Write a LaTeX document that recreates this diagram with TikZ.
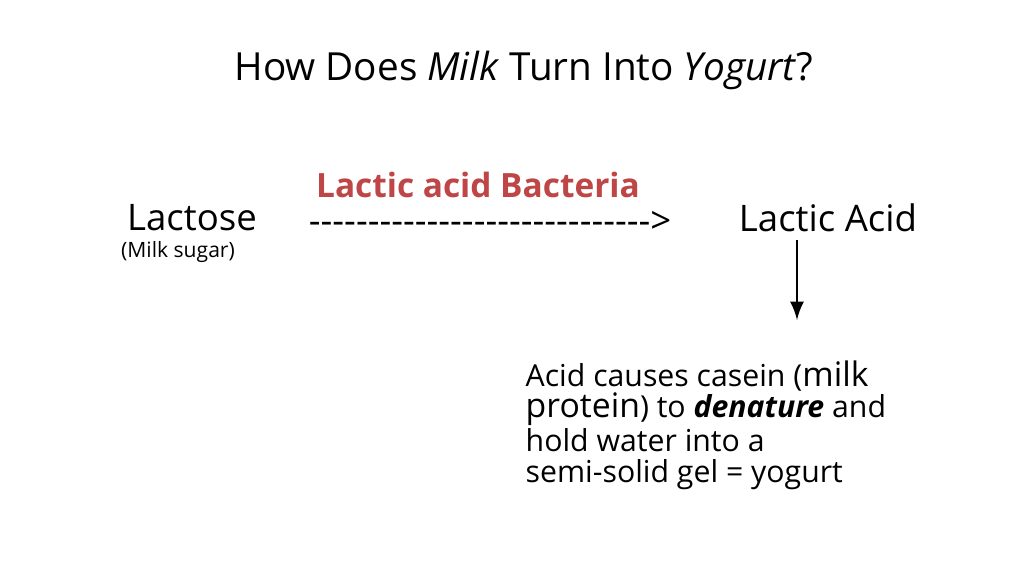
\documentclass[tikz,border=0pt]{standalone}
\usepackage{fontspec}
\setmainfont{Open Sans}
\begin{document}
\begin{tikzpicture}[x=0.01cm,y=-0.01cm,
  txt/.style={inner sep=0pt,font=\fontsize{10.4pt}{12pt}\selectfont},
  para/.style={inner sep=0pt,align=left,anchor=north west,font=\fontsize{8.6pt}{8.8pt}\selectfont}]
\useasboundingbox[fill=white] (0,0) rectangle (1024,576);
\node[inner sep=0pt,font=\fontsize{11pt}{12pt}\selectfont] (title) at (524,70) {How Does \textit{Milk} Turn Into \textit{Yogurt}?};
\node[txt] (lac) at (192,218) {Lactose};
\node[inner sep=0pt,font=\fontsize{6pt}{7pt}\selectfont] (ms) at (178,252) {(Milk sugar)};
\node[inner sep=0pt,font=\bfseries\fontsize{9.5pt}{11pt}\selectfont,text={rgb,255:red,190;green,70;blue,70}] (bac) at (478,185) {Lactic acid Bacteria};
\node[txt] (dash) at (490,222) {-{}-{}-{}-{}-{}-{}-{}-{}-{}-{}-{}-{}-{}-{}-{}-{}-{}-{}-{}-{}-{}-{}-{}-{}-{}-{}-{}-{}->};
\node[txt] (la) at (828,218) {Lactic Acid};
\node[para] (p) at (525,360) {Acid causes casein ({\fontsize{9.6pt}{9pt}\selectfont milk}\\{\fontsize{9.6pt}{9pt}\selectfont protein}) to \textbf{\textit{denature}} and\\hold water into a\\semi-solid gel = yogurt};
\coordinate (a1) at (797,240);
\coordinate (a2) at (797,320);
\draw[thick,-latex] (a1) -- (a2);
\end{tikzpicture}
\end{document}
